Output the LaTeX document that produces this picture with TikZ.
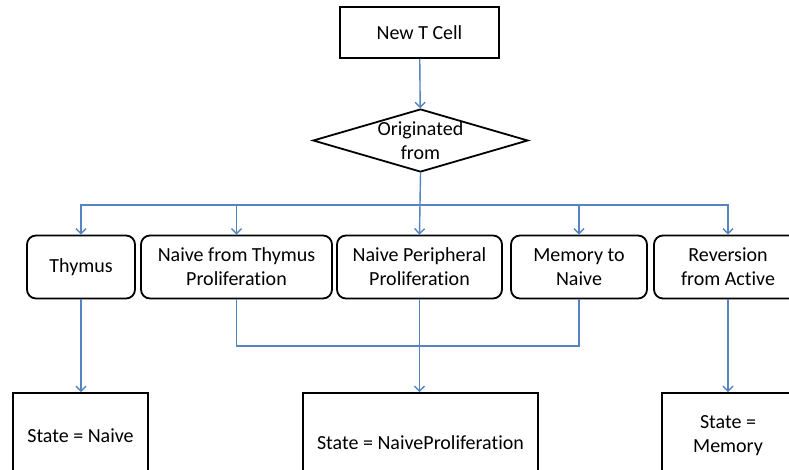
\documentclass[tikz,border=0pt]{standalone}
\usepackage{fontspec}
\setmainfont{Carlito}[Ligatures=NoCommon]
\usetikzlibrary{positioning,shapes.geometric,arrows.meta}
\definecolor{linkblue}{RGB}{85,132,192}

\begin{document}
\begin{tikzpicture}
        [x=1pt,y=-1pt,
        every node/.style={font=\fontsize{20}{24}\selectfont,align=center,inner sep=0pt},
        box/.style={draw=black,line width=1.8pt,rectangle},
        source/.style={box,rounded corners=9pt},
        decision/.style={draw=black,line width=1.8pt,diamond,minimum width=215pt,minimum height=63pt},
        link/.style={draw=linkblue,line width=1.4pt},
        flow/.style={link,-{Straight Barb[length=5pt,width=10pt]}}]
        \useasboundingbox (0,0) rectangle (789,469);
        \clip (0,0) rectangle (789,469);
        \node[box,minimum width=159pt,minimum height=51pt] (newcell) at (419.5,32.5) {New T Cell};
        \node[decision] (orig) at (420.5,140.5) {};
        \node (origtext) at (orig.center) {Originated\\from};
        \coordinate (bus) at (420.5,205);
        \coordinate (merge) at (420.5,346);
        \node[source,minimum width=108pt,minimum height=63pt] (thymus) at (81,267) {Thymus};
        \node[source,minimum width=191pt,minimum height=63pt] (ntp) at (236.5,267) {Naive from Thymus\\Proliferation};
        \node[source,minimum width=165pt,minimum height=63pt] (npp) at (419.5,267) {Naive Peripheral\\Proliferation};
        \node[source,minimum width=136pt,minimum height=63pt] (mem) at (579,267) {Memory to\\Naive};
        \node[source,minimum width=148pt,minimum height=63pt] (rev) at (728,267) {Reversion\\from Active};
        \node[box,minimum width=135pt,minimum height=86pt] (snaive) at (80.5,436) {State = Naive};
        \node[box,minimum width=235pt,minimum height=100pt] (sprolif) at (420.5,443) {State = NaiveProliferation};
        \node[box,minimum width=132pt,minimum height=86pt] (smem) at (728,436) {State =\\Memory};
        \draw[flow] (newcell) -- (orig);
        \draw[flow] (orig.south) -- (npp.north);
        \draw[flow] (bus) -| (thymus.north);
        \draw[flow] (bus) -| (rev.north);
        \draw[flow] (ntp.north |- bus) -- (ntp.north);
        \draw[flow] (mem.north |- bus) -- (mem.north);
        \draw[link] (ntp.south) |- (merge) -| (mem.south);
        \draw[flow] (thymus.south) -- (thymus.south |- snaive.north);
        \draw[flow] (npp.south) -- (npp.south |- sprolif.north);
        \draw[flow] (rev.south) -- (smem.north);
        \end{tikzpicture}
\end{document}
